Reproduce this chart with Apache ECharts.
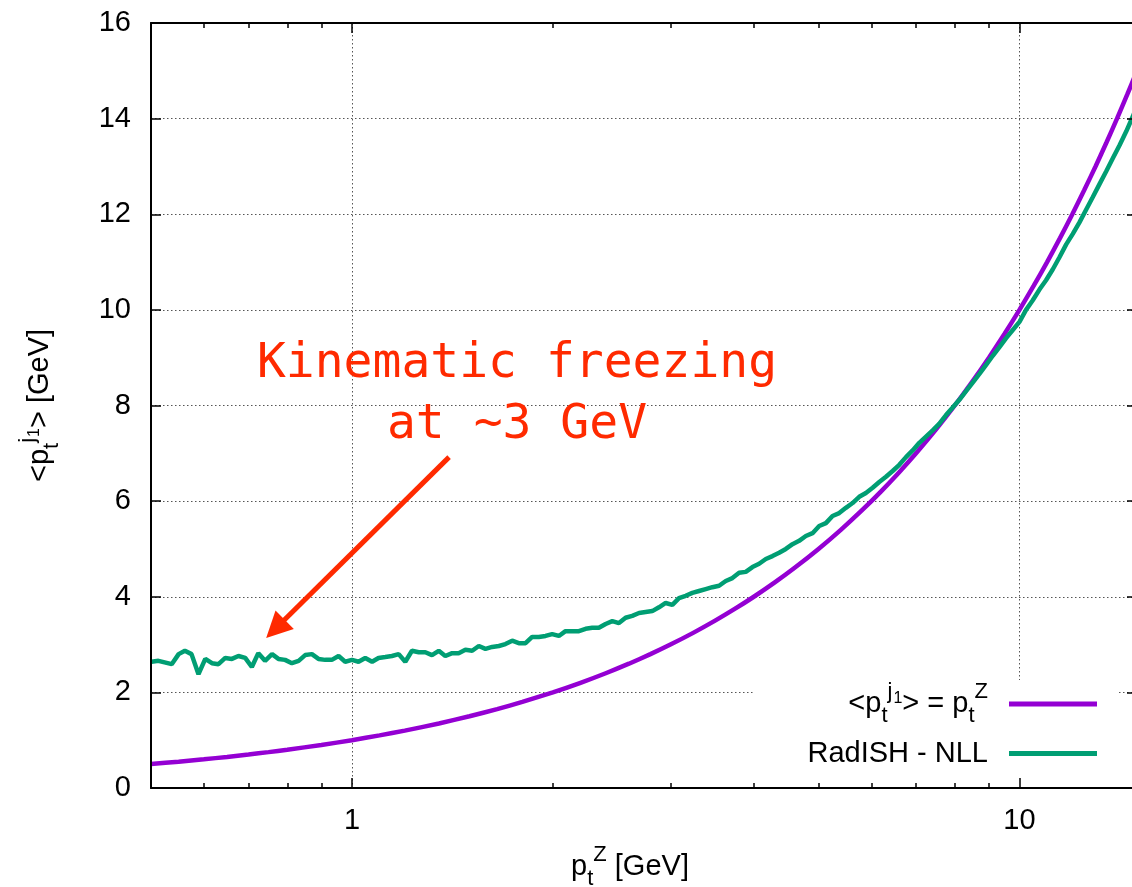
<!DOCTYPE html>
<html><head><meta charset="utf-8">
<script src="https://cdn.jsdelivr.net/npm/echarts@6/dist/echarts.min.js"></script>
<style>html,body{margin:0;padding:0;background:#fff;overflow:hidden}#c{width:1132px;height:887px}</style>
</head><body><div id="c"></div>
<script>
// ---------- data ----------
const yTicks = [0, 2, 4, 6, 8, 10, 12, 14, 16];
const xMajor = [1, 10];
const xMinor = [0.6, 0.7, 0.8, 0.9, 2, 3, 4, 5, 6, 7, 8, 9];

// <pt^j1> = pt^Z  (identity line)
const purpleX = [0.5,0.55,0.6,0.65,0.7,0.75,0.8,0.9,1,1.1,1.2,1.35,1.5,1.65,1.8,2,2.2,2.4,2.6,2.8,3,3.25,3.5,3.75,4,4.3,4.6,5,5.4,5.8,6.2,6.6,7,7.5,8,8.5,9,9.5,10,10.5,11,11.5,12,12.5,13,13.5,14,14.5,15];
const purpleY = [0.5,0.55,0.6,0.65,0.7,0.75,0.8,0.9,1,1.1,1.2,1.35,1.5,1.65,1.8,2,2.2,2.4,2.6,2.8,3,3.25,3.5,3.75,4,4.3,4.6,5,5.4,5.8,6.2,6.6,7,7.5,8,8.5,9,9.5,10,10.5,11,11.5,12,12.5,13,13.5,14,14.5,15];

// RadISH - NLL
const greenX = [0.501,0.513,0.537,0.550,0.562,0.575,0.589,0.603,0.617,0.631,0.646,0.661,0.676,0.692,0.708,0.724,0.741,0.759,0.776,0.794,
  0.813,0.832,0.851,0.871,0.891,0.912,0.933,0.955,0.977,1.000,1.023,1.047,1.072,1.096,1.122,1.148,1.175,1.202,1.230,1.259,
  1.288,1.318,1.349,1.380,1.413,1.445,1.479,1.514,1.549,1.585,1.622,1.660,1.698,1.738,1.778,1.820,1.862,1.905,1.950,1.995,
  2.042,2.089,2.138,2.188,2.239,2.291,2.344,2.399,2.455,2.512,2.570,2.630,2.692,2.754,2.818,2.884,2.951,3.020,3.090,3.162,
  3.236,3.311,3.388,3.467,3.548,3.631,3.715,3.802,3.890,3.981,4.074,4.169,4.266,4.365,4.467,4.571,4.677,4.786,4.898,5.012,
  5.129,5.248,5.370,5.495,5.623,5.754,5.888,6.026,6.166,6.310,6.457,6.607,6.761,6.918,7.079,7.244,7.413,7.586,7.762,7.943,
  8.128,8.318,8.511,8.710,8.913,9.120,9.333,9.550,9.772,10.00,10.23,10.47,10.72,10.96,11.22,11.48,11.75,12.02,12.30,12.59,
  12.88,13.18,13.49,13.80,14.13,14.45,14.79,15.14];
const greenY = [2.64,2.66,2.59,2.80,2.87,2.80,2.38,2.70,2.61,2.59,2.72,2.70,2.76,2.72,2.53,2.82,2.66,2.80,2.70,2.68,
  2.61,2.66,2.78,2.80,2.70,2.68,2.68,2.76,2.64,2.68,2.64,2.72,2.64,2.72,2.74,2.76,2.80,2.64,2.87,2.84,
  2.84,2.78,2.87,2.76,2.82,2.82,2.89,2.87,2.97,2.91,2.95,2.97,3.01,3.08,3.03,3.03,3.16,3.16,3.18,3.22,
  3.18,3.28,3.28,3.28,3.33,3.35,3.35,3.43,3.49,3.45,3.56,3.60,3.66,3.68,3.70,3.78,3.87,3.83,3.97,4.02,
  4.08,4.12,4.16,4.20,4.23,4.33,4.39,4.50,4.52,4.62,4.69,4.79,4.85,4.92,5.00,5.10,5.17,5.27,5.33,5.48,
  5.54,5.69,5.75,5.86,5.96,6.09,6.17,6.28,6.40,6.51,6.63,6.76,6.92,7.06,7.22,7.35,7.48,7.62,7.80,7.96,
  8.12,8.30,8.48,8.66,8.85,9.04,9.22,9.41,9.58,9.75,10.0,10.2,10.43,10.62,10.85,11.1,11.37,11.59,11.83,12.10,
  12.36,12.63,12.90,13.17,13.45,13.73,14.05,14.4];

// annotation arrow (data space)
const arrowFrom = [1.398, 6.92];
const arrowTo = [0.768, 3.33];
const noteText = 'Kinematic freezing\nat ~3 GeV';

const PURPLE = '#9400d3', GREEN = '#009e73', RED = '#ff2a00';
const FONT = '"Liberation Sans", Arial, sans-serif';
const richStyles = {
  m:   {fontSize: 29, fontFamily: FONT, lineHeight: 46, color: '#000'},
  mE:  {fontSize: 29, fontFamily: FONT, lineHeight: 46, color: '#000', padding: [0, 16, 0, 0]},
  mX:  {fontSize: 29, fontFamily: FONT, lineHeight: 46, color: '#000', padding: [0, 28, 0, 0]},
  sub: {fontSize: 22, fontFamily: FONT, lineHeight: 22, color: '#000', verticalAlign: 'bottom'},
  sup: {fontSize: 22, fontFamily: FONT, lineHeight: 22, color: '#000', verticalAlign: 'top'},
  supE:{fontSize: 22, fontFamily: FONT, lineHeight: 22, color: '#000', verticalAlign: 'top', padding: [0, 16, 0, 0]},
  ss:  {fontSize: 16, fontFamily: FONT, lineHeight: 16, color: '#000', verticalAlign: 'top', padding: [10, 0, 0, 1]}
};
const PURPLE_NAME = '<pt^j1> = pt^Z';
const GREEN_NAME = 'RadISH - NLL';

const chart = echarts.init(document.getElementById('c'), null, {renderer: 'canvas', width: 1132, height: 887});
const gridLine = {show: true, lineStyle: {color: '#555', width: 1, type: [1.5, 2.5]}};
const xBase = {type: 'log', logBase: 10, min: 0.5, max: 15, gridIndex: 0, axisLine: {show: false, onZero: false},
  splitLine: {show: false}, axisLabel: {show: false}, axisTick: {show: false}};
const yBase = {type: 'value', min: 0, max: 16, interval: 2, gridIndex: 0, axisLine: {show: false, onZero: false},
  splitLine: {show: false}, axisLabel: {show: false}, axisTick: {show: false}};

const option = {
  animation: false,
  backgroundColor: '#fff',
  grid: {left: 151, right: -5, top: 23, bottom: 99, containLabel: false, outerBoundsMode: 'none'},
  xAxis: [
    Object.assign({}, xBase, {position: 'bottom', z: 0, splitLine: gridLine,
      axisTick: {show: false, customValues: xMajor}, axisLabel: {show: false, customValues: xMajor}}),
    Object.assign({}, xBase, {position: 'bottom', z: 5,
      name: '{m|p}{sub|t}{sup|Z}{mX| [GeV]}', nameLocation: 'middle', nameGap: 56,
      nameTextStyle: {rich: richStyles},
      axisLine: {show: true, onZero: false, lineStyle: {color: '#000', width: 2}},
      axisTick: {show: true, inside: true, length: 10, customValues: xMajor, lineStyle: {color: '#000', width: 1.5}},
      axisLabel: {show: true, customValues: xMajor, margin: 18, fontSize: 29, fontFamily: FONT, color: '#000',
        formatter: v => String(Math.round(v))}}),
    Object.assign({}, xBase, {position: 'bottom', z: 5,
      axisTick: {show: true, inside: true, length: 5, customValues: xMinor, lineStyle: {color: '#000', width: 1.5}},
      axisLabel: {show: false, customValues: xMinor}}),
    Object.assign({}, xBase, {position: 'top', z: 5,
      axisLine: {show: true, onZero: false, lineStyle: {color: '#000', width: 2}},
      axisTick: {show: true, inside: true, length: 10, customValues: xMajor, lineStyle: {color: '#000', width: 1.5}},
      axisLabel: {show: false, customValues: xMajor}}),
    Object.assign({}, xBase, {position: 'top', z: 5,
      axisTick: {show: true, inside: true, length: 5, customValues: xMinor, lineStyle: {color: '#000', width: 1.5}},
      axisLabel: {show: false, customValues: xMinor}})
  ],
  yAxis: [
    Object.assign({}, yBase, {position: 'left', z: 0, splitLine: gridLine}),
    Object.assign({}, yBase, {position: 'left', z: 5,
      name: '{m|<p}{sub|t}{sup|j}{ss|1}{m|> [GeV]}', nameLocation: 'middle', nameGap: 88, nameRotate: 90,
      nameTextStyle: {rich: richStyles},
      axisLine: {show: true, onZero: false, lineStyle: {color: '#000', width: 2}},
      axisTick: {show: true, inside: true, length: 10, lineStyle: {color: '#000', width: 1.5}},
      axisLabel: {show: true, margin: 20, fontSize: 29, fontFamily: FONT, color: '#000',
        formatter: v => yTicks.indexOf(v) >= 0 ? String(v) : ''}}),
    Object.assign({}, yBase, {position: 'right', z: 5,
      axisLine: {show: true, onZero: false, lineStyle: {color: '#000', width: 2}},
      axisTick: {show: true, inside: true, length: 10, lineStyle: {color: '#000', width: 1.5}}})
  ],
  legend: [
    {data: [PURPLE_NAME], right: 35, top: 681, padding: 0, orient: 'vertical', align: 'right',
      icon: 'rect', itemWidth: 88, itemHeight: 5, selectedMode: false,
      textStyle: {rich: richStyles},
      formatter: () => '{m|<p}{sub|t}{sup|j}{ss|1}{m|> = p}{sub|t}{supE|Z}'},
    {data: [GREEN_NAME], right: 35, top: 739, padding: 0, orient: 'vertical', align: 'right',
      icon: 'rect', itemWidth: 88, itemHeight: 5, selectedMode: false,
      textStyle: {rich: richStyles},
      formatter: () => '{mE|RadISH - NLL}'}
  ],
  graphic: [
    {type: 'rect', z: 1, silent: true, shape: {x: 755, y: 680, width: 362, height: 106}, style: {fill: '#fff'}},
    {type: 'text', z: 10, silent: true, x: 517, y: 334,
      style: {text: noteText, fontSize: 48, fontFamily: '"DejaVu Sans Mono", monospace', fill: RED,
        align: 'center', verticalAlign: 'top', lineHeight: 61}}
  ],
  series: [
    {name: PURPLE_NAME, type: 'line', xAxisIndex: 0, yAxisIndex: 0, z: 2,
      data: purpleX.map((x, i) => [x, purpleY[i]]), showSymbol: false, symbol: 'none', smooth: 0.2,
      lineStyle: {color: PURPLE, width: 4.5}, itemStyle: {color: PURPLE}},
    {name: GREEN_NAME, type: 'line', xAxisIndex: 0, yAxisIndex: 0, z: 3,
      data: greenX.map((x, i) => [x, greenY[i]]), showSymbol: false, symbol: 'none',
      lineStyle: {color: GREEN, width: 4.5}, itemStyle: {color: GREEN},
      markLine: {silent: true, symbol: ['none', 'triangle'], symbolSize: 26,
        label: {show: false}, emphasis: {disabled: true},
        lineStyle: {color: RED, width: 5, type: 'solid'}, itemStyle: {color: RED},
        data: [[{coord: arrowFrom}, {coord: arrowTo}]]}}
  ]
};
chart.setOption(option);
</script>
</body></html>
